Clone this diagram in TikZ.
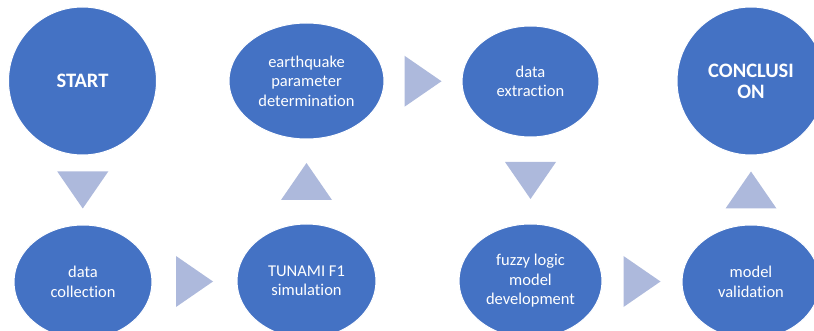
\documentclass[tikz,border=0pt]{standalone}
\usepackage{fontspec}
\setmainfont[Ligatures=NoCommon]{Carlito}
\usetikzlibrary{shapes.geometric,calc}

\definecolor{stageblue}{HTML}{4472C4}
\definecolor{flowtint}{RGB}{173,185,220}

\tikzset{
  stage/.style={ellipse, fill=stageblue, draw=white, line width=1pt,
    inner sep=0pt, text=white, align=center,
    font=\fontsize{16.5}{19.5}\selectfont},
  milestone/.style={stage, font=\fontsize{20.5}{21}\selectfont\bfseries},
  flowtri/.style={fill=flowtint},
}

\begin{document}
\begin{tikzpicture}[x=1pt,y=-1pt]
  \useasboundingbox (0,0) rectangle (814,331);
  \clip (0,0) rectangle (814,331);

  % process stages
  \node[milestone, minimum width=148pt, minimum height=148pt] (start) at (82.5,81) {START};
  \node[stage, minimum width=138pt, minimum height=114pt] (collect) at (83,282) {data\\collection};
  \node[stage, minimum width=139pt, minimum height=114pt] (tunami) at (306.5,281) {TUNAMI F1\\simulation};
  \node[stage, minimum width=155pt, minimum height=116pt] (quake) at (306.5,81) {earthquake\\parameter\\determination};
  \node[stage, minimum width=137pt, minimum height=111pt] (extract) at (530.5,81.5) {data\\extraction};
  \node[stage, minimum width=143pt, minimum height=114pt] (fuzzy) at (530.5,281) {fuzzy logic\\model\\development};
  \node[stage, minimum width=138pt, minimum height=114pt] (valid) at (751,282) {model\\validation};
  \node[milestone, minimum width=148pt, minimum height=148pt] (concl) at (751,81) {CONCLUSI\\ON};

  % triangular flow markers between consecutive stages
  \newcommand{\flowdown}[2]{%
    \fill[flowtri] ($(#1.south)!0.5!(#2.north)$) +(-25.5,-18.5) -- +(25.5,-18.5) -- +(0,18.5) -- cycle;}
  \newcommand{\flowup}[2]{%
    \fill[flowtri] ($(#1.north)!0.5!(#2.south)$) +(-25.5,18.5) -- +(25.5,18.5) -- +(0,-18.5) -- cycle;}
  \newcommand{\flowright}[2]{%
    \fill[flowtri] ($(#1.east)!0.5!(#2.west)$) +(-18.5,-25.5) -- +(18.5,0) -- +(-18.5,25.5) -- cycle;}

  \flowdown{start}{collect}
  \flowright{collect}{tunami}
  \flowup{tunami}{quake}
  \flowright{quake}{extract}
  \flowdown{extract}{fuzzy}
  \flowright{fuzzy}{valid}
  \flowup{valid}{concl}
\end{tikzpicture}
\end{document}
